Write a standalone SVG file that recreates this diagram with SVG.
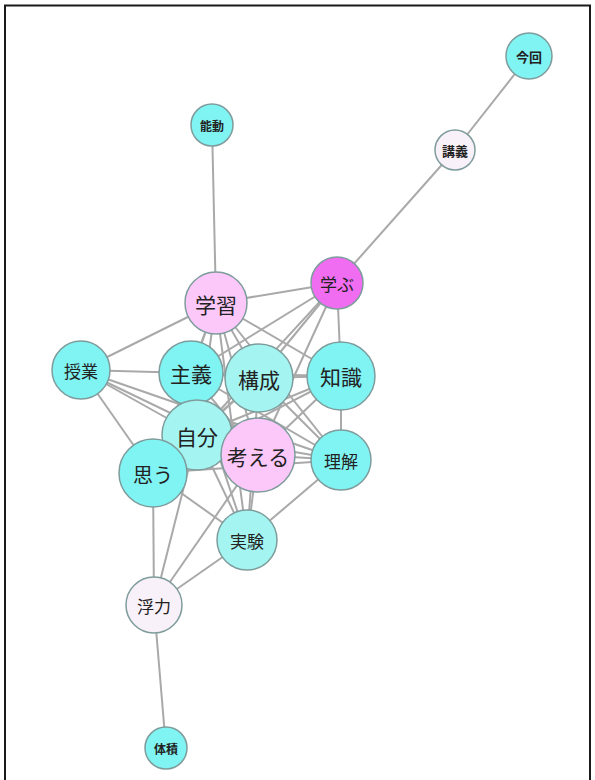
<svg xmlns="http://www.w3.org/2000/svg" width="595" height="780" viewBox="0 0 595 780">
<style>
.e{stroke:#a9a9a9;stroke-width:2;fill:none}
.n{stroke:#7f9c9c;stroke-width:1.5}
.c{fill:#80f3f3}
.lc{fill:#a4f5f1}
.p{fill:#fcc8fa}
.m{fill:#f06cf0}
.w{fill:#f9f1f9}
text{font-family:"Noto Sans CJK JP","Noto Sans",sans-serif;fill:#222;text-anchor:middle;dominant-baseline:central}
</style>
<rect x="0" y="0" width="595" height="780" fill="#ffffff"/>
<rect x="5" y="5.5" width="585" height="780" fill="none" stroke="#1a1a1a" stroke-width="2"/>
<g id="edges">
<line class="e" x1="529" y1="56" x2="455" y2="150"/>
<line class="e" x1="455" y1="150" x2="337" y2="283"/>
<line class="e" x1="212" y1="125" x2="216" y2="303"/>
<line class="e" x1="216" y1="303" x2="337" y2="283"/>
<line class="e" x1="216" y1="303" x2="81" y2="370"/>
<line class="e" x1="216" y1="303" x2="191" y2="373"/>
<line class="e" x1="216" y1="303" x2="259" y2="378"/>
<line class="e" x1="216" y1="303" x2="341" y2="376"/>
<line class="e" x1="216" y1="303" x2="197" y2="435"/>
<line class="e" x1="216" y1="303" x2="258" y2="455"/>
<line class="e" x1="216" y1="303" x2="341" y2="460"/>
<line class="e" x1="216" y1="303" x2="247" y2="540"/>
<line class="e" x1="216" y1="303" x2="153" y2="473"/>
<line class="e" x1="337" y1="283" x2="341" y2="376"/>
<line class="e" x1="337" y1="283" x2="259" y2="378"/>
<line class="e" x1="337" y1="283" x2="191" y2="373"/>
<line class="e" x1="337" y1="283" x2="197" y2="435"/>
<line class="e" x1="337" y1="283" x2="258" y2="455"/>
<line class="e" x1="81" y1="370" x2="191" y2="373"/>
<line class="e" x1="81" y1="370" x2="197" y2="435"/>
<line class="e" x1="81" y1="370" x2="258" y2="455"/>
<line class="e" x1="81" y1="370" x2="341" y2="460"/>
<line class="e" x1="81" y1="370" x2="153" y2="473"/>
<line class="e" x1="191" y1="373" x2="259" y2="378"/>
<line class="e" x1="191" y1="373" x2="341" y2="376"/>
<line class="e" x1="191" y1="373" x2="341" y2="460"/>
<line class="e" x1="191" y1="373" x2="258" y2="455"/>
<line class="e" x1="191" y1="373" x2="247" y2="540"/>
<line class="e" x1="259" y1="378" x2="341" y2="376"/>
<line class="e" x1="259" y1="378" x2="197" y2="435"/>
<line class="e" x1="259" y1="378" x2="153" y2="473"/>
<line class="e" x1="259" y1="378" x2="341" y2="460"/>
<line class="e" x1="259" y1="378" x2="247" y2="540"/>
<line class="e" x1="341" y1="376" x2="341" y2="460"/>
<line class="e" x1="341" y1="376" x2="197" y2="435"/>
<line class="e" x1="341" y1="376" x2="153" y2="473"/>
<line class="e" x1="341" y1="376" x2="258" y2="455"/>
<line class="e" x1="197" y1="435" x2="341" y2="460"/>
<line class="e" x1="197" y1="435" x2="247" y2="540"/>
<line class="e" x1="258" y1="455" x2="341" y2="460"/>
<line class="e" x1="258" y1="455" x2="247" y2="540"/>
<line class="e" x1="153" y1="473" x2="247" y2="540"/>
<line class="e" x1="153" y1="473" x2="341" y2="460"/>
<line class="e" x1="153" y1="473" x2="154" y2="605"/>
<line class="e" x1="154" y1="605" x2="247" y2="540"/>
<line class="e" x1="154" y1="605" x2="197" y2="435"/>
<line class="e" x1="154" y1="605" x2="258" y2="455"/>
<line class="e" x1="154" y1="605" x2="166" y2="748"/>
<line class="e" x1="247" y1="540" x2="341" y2="460"/>
</g>
<g id="n-konkai"><circle class="n c" cx="529" cy="56" r="23"/><text x="529" y="56" font-size="13" font-weight="bold">今回</text></g>
<g id="n-kougi"><circle class="n w" cx="455" cy="150" r="20"/><text x="455" y="150" font-size="13" font-weight="bold">講義</text></g>
<g id="n-noudou"><circle class="n c" cx="212" cy="125" r="21"/><text x="212" y="125" font-size="12" font-weight="bold">能動</text></g>
<g id="n-manabu"><circle class="n m" cx="337" cy="283" r="26"/><text x="337" y="283" font-size="17">学ぶ</text></g>
<g id="n-gakushu"><circle class="n p" cx="216" cy="303" r="31"/><text x="216" y="304" font-size="21">学習</text></g>
<g id="n-jugyou"><circle class="n c" cx="81" cy="370" r="29"/><text x="81" y="370" font-size="17">授業</text></g>
<g id="n-shugi"><circle class="n c" cx="191" cy="373" r="32"/><text x="191" y="373" font-size="21">主義</text></g>
<g id="n-kousei"><circle class="n lc" cx="259" cy="378" r="34"/><text x="259" y="379" font-size="21">構成</text></g>
<g id="n-chishiki"><circle class="n c" cx="341" cy="376" r="34"/><text x="341" y="376" font-size="21">知識</text></g>
<g id="n-jibun"><circle class="n lc" cx="197" cy="435" r="35"/><text x="197" y="436" font-size="21">自分</text></g>
<g id="n-rikai"><circle class="n c" cx="341" cy="460" r="30"/><text x="341" y="460" font-size="17">理解</text></g>
<g id="n-omou"><circle class="n c" cx="153" cy="473" r="34"/><text x="153" y="474" font-size="20">思う</text></g>
<g id="n-kangaeru"><circle class="n p" cx="258" cy="455" r="37"/><text x="258" y="456" font-size="21">考える</text></g>
<g id="n-jikken"><circle class="n lc" cx="247" cy="540" r="30"/><text x="247" y="540" font-size="17">実験</text></g>
<g id="n-furyoku"><circle class="n w" cx="154" cy="605" r="28"/><text x="154" y="605" font-size="17">浮力</text></g>
<g id="n-taiseki"><circle class="n c" cx="166" cy="748" r="21"/><text x="166" y="748" font-size="12" font-weight="bold">体積</text></g>
</svg>
